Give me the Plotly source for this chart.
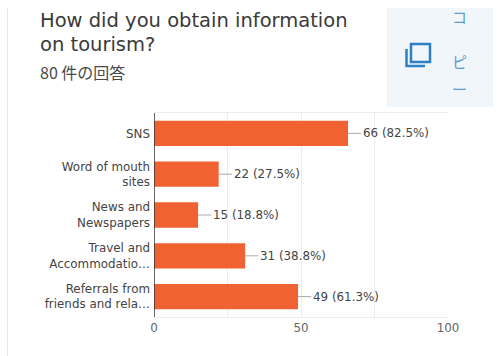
import plotly.graph_objects as go

WIDTH, HEIGHT = 504, 356
LEFT, RIGHT, TOP, BOTTOM = 154, 448, 113, 317

categories = [
    "SNS",
    "Word of mouth<br>sites",
    "News and<br>Newspapers",
    "Travel and<br>Accommodatio…",
    "Referrals from<br>friends and rela…",
]
counts = [66, 22, 15, 31, 49]
value_labels = ["66 (82.5%)", "22 (27.5%)", "15 (18.8%)", "31 (38.8%)", "49 (61.3%)"]
x_ticks = [0, 25, 50, 75, 100]
x_tick_labels = ["0", "", "50", "", "100"]
leader_length = [4.5, 4.5, 4.5, 4.5, 4.5]

BAR = "#f16233"
TEXT = "#444444"
GRID = "#ececec"
LABEL_FONT = "DejaVu Sans"


# Page pixels to paper fractions, which are measured against the plot area
def px(x):
    return (x - LEFT) / (RIGHT - LEFT)


def py(y):
    return (BOTTOM - y) / (BOTTOM - TOP)


fig = go.Figure(
    go.Bar(
        x=counts,
        y=categories,
        orientation="h",
        width=0.62,
        marker=dict(color=BAR, line=dict(width=0)),
        error_x=dict(
            type="data",
            array=leader_length,
            symmetric=False,
            color="#aaaaaa",
            thickness=1,
            width=0,
        ),
        hoverinfo="skip",
    )
)

# Count and share beside each bar, just past its leader line
for cat, n, lab in zip(categories, counts, value_labels):
    fig.add_annotation(
        x=n, y=cat, text=lab, showarrow=False, xanchor="left", xshift=13,
        font=dict(family=LABEL_FONT, size=11.9, color=TEXT),
    )


def page_text(x, y, text, size, color, family="Roboto", anchor="left"):
    fig.add_annotation(
        x=px(x), y=py(y), xref="paper", yref="paper", text=text, showarrow=False,
        xanchor=anchor, yanchor="middle", borderpad=0,
        font=dict(family=family, size=size, color=color),
    )


page_text(39, 20, "How did you obtain information", 19.5, "#3a3a3a", "DejaVu Sans")
page_text(39, 44, "on tourism?", 19.5, "#3a3a3a", "DejaVu Sans")
page_text(39, 72, "80 件の回答", 16, "#4a4a4a", "Noto Sans CJK JP")

ICON = "#2f7fc4"
page_text(459, 17, "コ", 15, "#5c9bd0", "Noto Sans CJK JP", "center")
page_text(459, 61, "ピ", 15, "#5c9bd0", "Noto Sans CJK JP", "center")
page_text(459, 88, "ー", 15, "#5c9bd0", "Noto Sans CJK JP", "center")

page_shapes = [
    # Card edge on the left of the page
    dict(type="line", x0=px(7.5), x1=px(7.5), y0=py(8), y1=py(356),
         line=dict(color="#e6e6e6", width=1)),
    # Pale panel behind the copy button
    dict(type="rect", x0=px(387), x1=px(493), y0=py(8), y1=py(107),
         fillcolor="#f1f6fb", line=dict(width=0), layer="below"),
    # Copy glyph: front square plus the L-shaped back sheet
    dict(type="rect", x0=px(411), x1=px(430), y0=py(44), y1=py(62),
         line=dict(color=ICON, width=2.5)),
    dict(type="path",
         path=f"M {px(406.5)} {py(49)} L {px(406.5)} {py(66)} L {px(425)} {py(66)}",
         line=dict(color=ICON, width=2.5)),
]
for s in page_shapes:
    s.update(xref="paper", yref="paper")

fig.update_layout(
    width=WIDTH,
    height=HEIGHT,
    margin=dict(l=LEFT, r=WIDTH - RIGHT, t=TOP, b=HEIGHT - BOTTOM, autoexpand=False),
    paper_bgcolor="white",
    plot_bgcolor="white",
    showlegend=False,
    shapes=page_shapes,
    xaxis=dict(
        range=[0, 100],
        tickvals=x_ticks,
        ticktext=x_tick_labels,
        showgrid=True,
        gridcolor=GRID,
        gridwidth=1,
        zeroline=False,
        showline=True,
        linecolor=GRID,
        mirror=True,
        ticks="",
        tickfont=dict(family=LABEL_FONT, size=11.9, color="#666666"),
    ),
    yaxis=dict(
        autorange="reversed",
        type="category",
        showgrid=False,
        zeroline=False,
        showline=False,
        ticks="",
        ticklabelstandoff=3,
        tickfont=dict(family=LABEL_FONT, size=11.9, color=TEXT),
    ),
)

# Dark baseline at zero, drawn over the bars
fig.add_shape(type="line", xref="x", yref="paper", x0=0, x1=0, y0=0, y1=1,
              line=dict(color="#333333", width=1.5), layer="above")

fig.write_html("out.html")
